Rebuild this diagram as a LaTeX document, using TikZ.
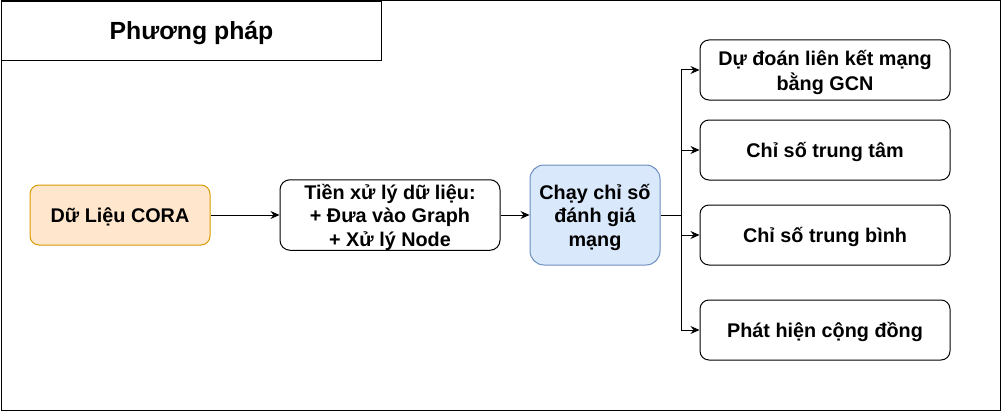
\documentclass[tikz,border=0pt]{standalone}
\usepackage{fontspec}
\setmainfont{Liberation Sans}
\usetikzlibrary{arrows.meta,positioning}
\definecolor{orfill}{HTML}{FFE6CC}
\definecolor{ordraw}{HTML}{D79B00}
\definecolor{blfill}{HTML}{DAE8FC}
\definecolor{bldraw}{HTML}{6C8EBF}
\newcommand{\boxtxt}[1]{\raisebox{-3pt}[\height][\depth]{\begin{tabular}{@{}c@{}}#1\end{tabular}}}
\tikzset{
  boxbase/.style={draw=black, line width=1pt, inner sep=0pt,
    font=\bfseries\fontsize{19.8}{23.5}\selectfont},
  rbox/.style={boxbase, rounded corners=9pt},
  conn/.style={line width=1pt, -{Stealth[length=9pt,width=8pt,inset=3pt]}},
}
\begin{document}
\begin{tikzpicture}[x=1pt,y=-1pt]
\useasboundingbox (0,0) rectangle (1001,412);
% outer frame
\draw[line width=1pt] (1,1) rectangle (1000,410);
\node[boxbase, minimum width=380pt, minimum height=59pt, anchor=north west,
  font=\bfseries\fontsize{24.8}{28}\selectfont] (title) at (1,1) {\boxtxt{Phương pháp}};
% nodes
\node[rbox, fill=orfill, draw=ordraw, minimum width=180pt, minimum height=60pt] (cora) at (120,215) {\boxtxt{Dữ Liệu CORA}};
\node[rbox, rounded corners=10pt, minimum width=220pt, minimum height=70pt] (pre) at (390,215) {\boxtxt{Tiền xử lý dữ liệu:\\ + Đưa vào Graph\\ + Xử lý Node}};
\node[rbox, rounded corners=14pt, fill=blfill, draw=bldraw, minimum width=130pt, minimum height=100pt] (run) at (595,215) {\boxtxt{Chạy chỉ số\\ đánh giá\\ mạng}};
\node[rbox, minimum width=250pt, minimum height=60pt] (gcn) at (825,70) {\boxtxt{Dự đoán liên kết mạng\\ bằng GCN}};
\node[rbox, minimum width=250pt, minimum height=60pt] (central) at (825,150) {\boxtxt{Chỉ số trung tâm}};
\node[rbox, minimum width=250pt, minimum height=60pt] (avg) at (825,235) {\boxtxt{Chỉ số trung bình}};
\node[rbox, minimum width=250pt, minimum height=60pt] (comm) at (825,330) {\boxtxt{Phát hiện cộng đồng}};
\coordinate (j) at (681,215);
% connectors
\draw[conn] (cora) -- (pre);
\draw[conn] (pre) -- (run);
\draw[conn] (run.east) -- (j) |- (gcn.west);
\draw[conn] (j) |- (central.west);
\draw[conn] (j) |- (avg.west);
\draw[conn] (j) |- (comm.west);
\end{tikzpicture}
\end{document}
